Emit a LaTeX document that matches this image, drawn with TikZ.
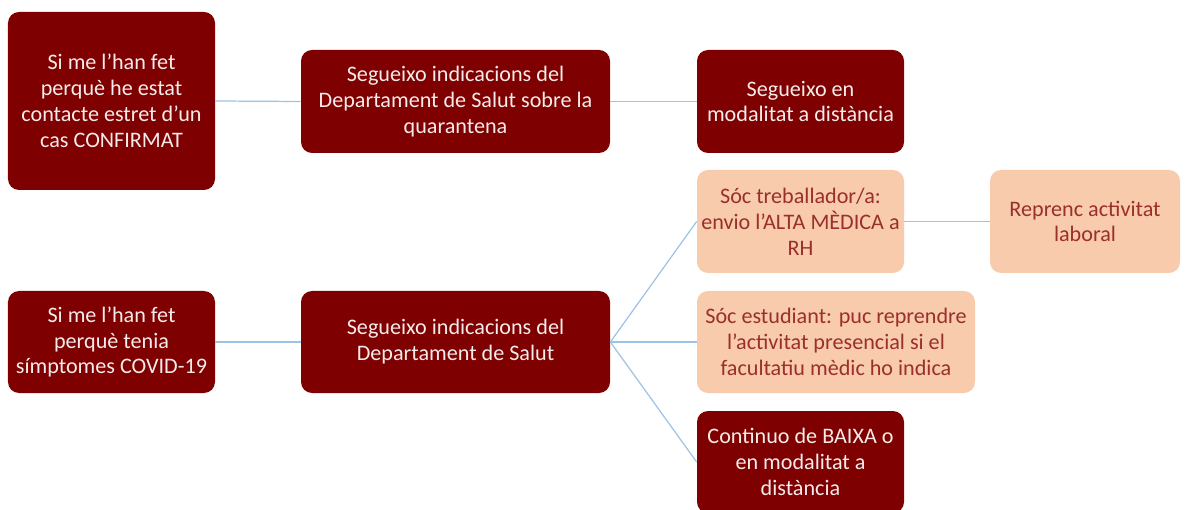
\documentclass[tikz,border=0pt]{standalone}
\usepackage{fontspec}
\setmainfont{Carlito}
\usepackage{xcolor}
\usetikzlibrary{positioning}
\definecolor{DarkMaroon}{HTML}{7F0000}
\definecolor{Peach}{HTML}{F8CBAD}
\definecolor{PeachText}{HTML}{9A2F2B}
\definecolor{LinkBlue}{HTML}{9DC3E6}

\begin{document}
\begin{tikzpicture}[
  darkbox/.style={rectangle, rounded corners=0.22cm, fill=DarkMaroon, text=white!92!DarkMaroon,
    align=center, font=\fontsize{12.6}{14.7}\selectfont, inner sep=0pt},
  lightbox/.style={rectangle, rounded corners=0.22cm, fill=Peach, text=PeachText,
    align=center, font=\fontsize{12.6}{14.7}\selectfont, inner sep=0pt},
  link/.style={draw=LinkBlue, line width=0.7pt},
]
\useasboundingbox (0, 0) rectangle (23.74, -10.2);

% --- Contact with a confirmed case ---
\node[darkbox, minimum width=4.14cm, minimum height=3.56cm] (contact) at (2.23, -2.02)
  {Si me l’han fet\\perquè he estat\\contacte estret d’un\\cas CONFIRMAT};
\node[darkbox, minimum width=6.18cm, minimum height=2.06cm] (quarantine) at (9.11, -2.03)
  {Segueixo indicacions del\\Departament de Salut sobre la\\quarantena};
\node[darkbox, minimum width=4.14cm, minimum height=2.06cm] (remote) at (16.01, -2.03)
  {Segueixo en\\modalitat a distància};

% --- Symptoms ---
\node[darkbox, minimum width=4.14cm, minimum height=2.04cm] (symptoms) at (2.23, -6.84)
  {Si me l’han fet\\perquè tenia\\símptomes COVID-19};
\node[darkbox, minimum width=6.18cm, minimum height=2.04cm] (health) at (9.11, -6.84)
  {Segueixo indicacions del\\Departament de Salut};

% --- Outcomes ---
\node[lightbox, minimum width=4.14cm, minimum height=2.06cm] (worker) at (16.01, -4.43)
  {Sóc treballador/a:\\envio l’ALTA MÈDICA a\\RH};
\node[lightbox, minimum width=3.80cm, minimum height=2.06cm] (resume) at (21.70, -4.43)
  {Reprenc activitat\\laboral};
\node[lightbox, minimum width=5.56cm, minimum height=2.04cm] (student) at (16.72, -6.84)
  {Sóc estudiant: puc reprendre\\l’activitat presencial si el\\facultatiu mèdic ho indica};
\node[darkbox, minimum width=4.14cm, minimum height=2.04cm] (sickleave) at (16.01, -9.24)
  {Continuo de BAIXA o\\en modalitat a\\distància};

% Links
\draw[link] (contact.east) -- (quarantine.west);
\draw[link] (quarantine.east) -- (remote.west);
\draw[link] (symptoms.east) -- (health.west);
\draw[link] (health.east) -- (worker.west);
\draw[link] (health.east) -- (student.west);
\draw[link] (health.east) -- (sickleave.west);
\draw[link] (worker.east) -- (resume.west);

\end{tikzpicture}
\end{document}
